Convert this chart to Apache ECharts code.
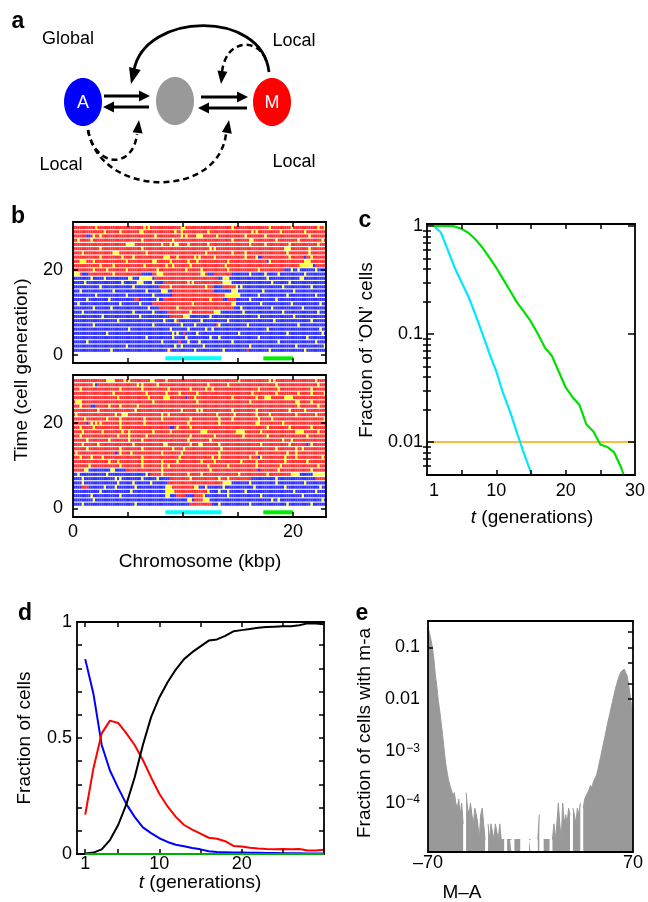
<!DOCTYPE html>
<html><head><meta charset="utf-8">
<script src="https://cdn.jsdelivr.net/npm/echarts@6/dist/echarts.min.js"></script>
<style>html,body{margin:0;padding:0;background:#fff}#c{width:648px;height:902px}</style>
</head><body><div id="c"></div><script>
// ---------------- DATA ----------------
// Panel b: chromatin states per generation (row) and nucleosome column (0.2 kbp each)
const heatCols = 115;
const colKbp = 0.2;
// [base run-length string, point specks] for generations 1..30 (top heatmap)
const topRows = [
 ["B115", "17y 43y 55y 68y 89y 105y 44r 79r"],
 ["B115", "24y 46y 49y 59y 80y 101y 114y"],
 ["B115", "6y 40y 52y 57y 72y 93y 110y 48r"],
 ["B115", "33y 45y 51y 62y 66y 84y 106y"],
 ["B115", "15y 45y 47y 56y 75y 97y 113y 50r"],
 ["B115", "25y 44y 52y 60y 63y 88y 112y"],
 ["B115", "9y 36y 49y 55y 66y 79y 102y 65r"],
 ["B115", "20y 41y 46y 58y 70y 91y 108y 47r"],
 ["B44R6Y3B62", "13y 30y 62y 84y 100y"],
 ["B43R21Y3B48", "4y 27y 36y 53y 77y 95y 111y"],
 ["B39R34B42", "9y 17y 34y 47y 76y 90y 104y"],
 ["B36R36Y2B41", "2y 21y 30y 54y 85y 99y 112y"],
 ["B28R2B11R27B2R4B41", "6y 16y 38y 62y 80y 92y"],
 ["B45R24Y7B39", "10y 24y 36y 84y 97y 110y"],
 ["B45R19B8Y3B40", "3y 18y 33y 40y 41y 42y 86y 100y"],
 ["B39R25B4R6B41", "12y 27y 44y 60y 74y 76y 95y 108y"],
 ["B41R27B47", "5y 22y 29y 30y 31y 36y 52y 54y 68y 69y 70y 71y 90y 98y"],
 ["B37R29B49", "8y 14y 25y 26y 30y 31y 32y 33y 34y 35y 68y 69y 70y 88y 103y 104y"],
 ["R4B3R24B5R25B3R8B43", "0y 1y 2y 18y 38y 39y 40y 58y 59y 80y 87y 93y 105y"],
 ["R96B19", "9y 15y 24y 38y 51y 58y 70y 84y 99y 102y 110y"],
 ["R109B1R5", "12y 18y 32y 42y 45y 53y 69y 103y 104y 105y 106y 107y 108y"],
 ["R88B1R26", "3y 4y 5y 9y 24y 36y 37y 44y 52y 56y 70y 89y 105y 106y 107y"],
 ["R84B2R19B1R9", "12y 22y 27y 41y 42y 43y 47y 55y 57y 64y 78y 83y 98y 108y"],
 ["R115", "4y 18y 19y 20y 33y 60y 72y 78y 97y 107y"],
 ["R115", "12y 31y 62y 64y 96y 97y 98y 107y"],
 ["R115", "24y 25y 26y 27y 40y 44y 46y 47y 52y 61y 80y 87y 98y 111y"],
 ["R115", "2y 8y 31y 45y 72y 80y 81y 92y 102y 113y"],
 ["R6B2R107", "9y 12y 37y 49y 51y 56y 57y 58y 65y 78y 87y 107y"],
 ["R115", "14y 21y 30y 31y 46y 49y 61y 81y 83y 94y 105y"],
 ["R115", "10y 32y 34y 49y 50y 72y 89y 99y 111y 114y"]
];
// bottom heatmap, generations 1..30
const bottomRows = [
 ["B53R10B52", "4y 28y 66y 80y 97y 108y"],
 ["B55R4Y3B53", "9y 52y 53y 90y 93y 113y"],
 ["B42Y2B3R4B4R4Y1B55", "8y 21y 70y 85y 104y"],
 ["B42Y4R15Y1B53", "12y 26y 66y 70y 78y 100y 110y"],
 ["B4R3B35Y3R10Y2B58", "14y 19y 28y 60y 68y 82y 96y 112y"],
 ["B43R25Y4B43", "4y 20y 27y 35y 80y 92y 105y"],
 ["B44R37B11Y1B17R5", "4y 19y 21y 31y 38y 53y 66y 70y"],
 ["B35R64Y4B6Y6", "2y 15y 33y 40y 52y 58y 75y 88y"],
 ["R5Y2B10Y2B5R91", "40y 62y 84b 93y 108y"],
 ["R115", "7y 21y 31y 40y 43y 61y 70y 83y 94y 111y"],
 ["R115", "16y 20y 31y 40y 47y 58y 64y 76y 83y 96y 106y"],
 ["R115", "3y 8y 13y 31y 48y 63y 66y 80y 84b 85y 96y 101y 113y"],
 ["R115", "1y 19b 21y 26y 40y 49y 66y 83y 97y 101y"],
 ["R115", "6y 21y 31y 45y 50y 67y 92y 101y 104y"],
 ["R115", "4y 11y 27y 41y 42y 53y 57y 58y 66y 85y 98y 106b 108y"],
 ["R115", "6y 16y 25y 31y 52y 62y 95y 99y"],
 ["R115", "3y 20y 25y 33y 53y 64y 77y 88y 106y"],
 ["R115", "4y 13y 22y 25y 36y 44y 58y 59y 60y 74y 75y 76y 77y 85y 101y 102y 103y 104y 111y"],
 ["R115", "3y 9y 21y 44b 45b 47y 53y 88y 98y 108y"],
 ["R115", "6b 8y 10y 12y 21y 32y 52y 66y 83y 84y 95y"],
 ["R115", "5y 15y 21y 32y 40y 53y 66y 72y 84y 90y 114y"],
 ["R115", "1y 19y 22y 23y 24y 40y 43y 65y 73y 83y 89y 101y 110y"],
 ["R115", "11y 28y 49y 56y 58y 72y 83y 98y 105y"],
 ["R115", "3y 8b 9b 16y 21y 29y 102y 111y"],
 ["R115", "1y 2y 3y 36y 56y 80y 101y 102y 108y"],
 ["R115", "20y 34y 41y 42y 43y 51b 55y 72y 83y 87y 88y 89y 96y 97y 98y 99y"],
 ["R115", "18y 33y 42y 48y 56y 81y 92y 102y 108y 114y"],
 ["R115", "3y 21y 31y 43y 53y 60y 63y 84y 93y 108y"],
 ["R115", "9y 10b 29y 31y 38y 61y 70y 92y 111y"],
 ["R115", "15y 16y 17y 18y 23y 25y 35y 36y 42y 75y 89y 91y 110y"]
];
const cyanGene = [8.4, 13.5];
const greenGene = [17.3, 20.0];
const geneRowY = -0.9;
const bXTicks = [5, 10, 15, 20];
const bXLabels = [0, 20];
const bYLabels = [0, 20];

// Panel c
const tC = [1,2,3,4,5,6,7,8,9,10,11,12,13,14,15,16,17,18,19,20,21,22,23,24,25,26,27,28,29];
const cyanC = [1.0,0.87,0.6,0.41,0.3,0.22,0.15,0.1,0.066,0.045,0.028,0.019,0.012,0.0078,0.0052,0.0034];
const greenC = [1.0,1.0,1.0,0.99,0.94,0.86,0.75,0.63,0.51,0.41,0.32,0.25,0.195,0.16,0.13,0.1,0.075,0.063,0.045,0.032,0.026,0.022,0.0145,0.0125,0.0095,0.009,0.008,0.0058,0.0038];
const thresholdC = 0.01;
const cXLabels = [1, 10, 20, 30];
const cXTicks = [5, 10, 15, 20, 25];
const cYMajor = [0.01, 0.1, 1];
const cYMinor = [0.006,0.007,0.008,0.009,0.02,0.03,0.04,0.05,0.06,0.07,0.08,0.09,0.2,0.3,0.4,0.5,0.6,0.7,0.8,0.9];

// Panel d
const tD = [1,2,3,4,5,6,7,8,9,10,11,12,13,14,15,16,17,18,19,20,21,22,23,24,25,26,27,28,29,30];
const blackD = [0.002,0.006,0.02,0.06,0.125,0.215,0.33,0.47,0.59,0.675,0.74,0.795,0.84,0.87,0.895,0.92,0.925,0.94,0.96,0.965,0.97,0.975,0.978,0.98,0.982,0.982,0.986,0.994,0.993,0.99];
const blueD = [0.84,0.69,0.47,0.36,0.285,0.215,0.16,0.115,0.09,0.068,0.052,0.04,0.033,0.026,0.02,0.012,0.009,0.008,0.007,0.006,0.005,0.005,0.004,0.004,0.003,0.003,0.003,0.002,0.002,0.002];
const redD = [0.17,0.37,0.52,0.575,0.565,0.52,0.47,0.405,0.33,0.26,0.205,0.16,0.125,0.105,0.088,0.07,0.066,0.055,0.035,0.032,0.027,0.024,0.022,0.021,0.022,0.02,0.022,0.015,0.015,0.018];
const greenD = [0,0,0,0,0,0,0,0,0,0,0,0,0,0,0,0,0,0,0,0,0,0,0,0,0,0,0,0,0,0];
const dXLabels = [1, 10, 20];
const dXTicks = [1, 5, 10, 15, 20, 25];
const dYLabels = [0, 0.5, 1];
const dYTicks = [0.1,0.2,0.3,0.4,0.5,0.6,0.7,0.8,0.9];

// Panel e: fraction of cells with M-A = -70 .. 70
const mE = [];
for (let m = -70; m <= 70; m++) mE.push(m);
const fracE = [
 0.24,0.19,0.14,0.1,0.06,0.03,0.018,0.0095,0.006,0.0035,
 0.002,0.0011,0.0006,0.0004,0.00028,0.00022,0.00018,0.00014,0.00016,0.0001,
 0.00008,0.00012,0.00006,0.0001,0.00004,0,0.00016,0.00008,0.00006,0.0001,
 0.00006,0.00004,0.00008,0.00006,0.00004,0.00002,0.00006,0.00008,0.00004,0.00002,
 0,0.00004,0.00002,0.00004,0.00004,0.00002,0.00004,0.00004,0.00002,0.00004,
 0.00002,0.00002,0.00002,0,0.00002,0.00002,0.00002,0.00002,0,0.00002,
 0.00002,0.00002,0.00002,0.00002,0,0,0,0,0,0.00002,
 0.00002,0,0.00002,0,0,0.00002,0.00006,0,0,0.00002,
 0.00002,0.00002,0.00002,0.00002,0,0.00002,0.00004,0.00002,0.00004,0.0001,
 0.00004,0.00002,0.0001,0.00004,0.00006,0.00004,0.00008,0.00006,0,0.00008,
 0.00006,0.00004,0.00008,0.00006,0.0001,0,0.00008,0.00012,0.00014,0.00016,
 0.00018,0.00022,0.0002,0.00026,0.0003,0.00034,0.00044,0.0006,0.0008,0.0011,
 0.0015,0.002,0.0028,0.0038,0.005,0.0068,0.009,0.012,0.016,0.02,
 0.025,0.03,0.034,0.037,0.038,0.035,0.028,0.019,0.012,0.0075,
 0.0045
];
const eXLabels = [-70, 70];
const eYLabels = [0.0001, 0.001, 0.01, 0.1];
const eYTicksLeft = [0.1];
const eYTicksRight = [0.2, 0.1, 0.05, 0.02, 0.01];

// ---------------- BUILD ----------------
const FONT = '"Liberation Sans", Arial, Helvetica, sans-serif';
const COLORS = {R: '#ff0000', B: '#0000ff', Y: '#ffff00'};

function expandRow(rle, specks) {
  const out = [];
  const re = /([RBY])(\d+)/g; let m;
  while ((m = re.exec(rle)) !== null) for (let i = 0; i < +m[2]; i++) out.push(m[1]);
  while (out.length < heatCols) out.push(out[out.length - 1] || 'B');
  out.length = heatCols;
  specks.split(/\s+/).filter(Boolean).forEach(tok => {
    const c = parseInt(tok, 10); const k = tok.slice(-1).toUpperCase();
    if (c >= 0 && c < heatCols) out[c] = k;
  });
  return out;
}
function heatSeries(rows, xi, yi) {
  const buckets = {R: [], B: [], Y: []};
  rows.forEach((r, ri) => {
    const cells = expandRow(r[0], r[1]);
    cells.forEach((k, ci) => buckets[k].push([ci * colKbp + colKbp / 2, ri + 1]));
  });
  return ['B', 'R', 'Y'].map(k => ({
    type: 'scatter', xAxisIndex: xi, yAxisIndex: yi, data: buckets[k],
    symbol: 'rect', symbolSize: [2.2, 3.1], itemStyle: {color: COLORS[k]},
    silent: true, animation: false, large: false
  }));
}
function geneSeries(region, color, xi, yi) {
  return {type: 'line', xAxisIndex: xi, yAxisIndex: yi, data: [[region[0], geneRowY], [region[1], geneRowY]],
    symbol: 'none', lineStyle: {color: color, width: 4, cap: 'butt'}, silent: true, animation: false, z: 3};
}
function lineSeries(xs, ys, color, xi, yi, w, z) {
  return {type: 'line', xAxisIndex: xi, yAxisIndex: yi, data: ys.map((v, i) => [xs[i], v]),
    symbol: 'none', lineStyle: {color: color, width: w || 2}, silent: true, animation: false, z: z || 2};
}

function ax(o) {
  return Object.assign({
    type: 'value',
    axisLine: {show: true, onZero: false, lineStyle: {color: '#000', width: 1.8}},
    axisTick: {show: false}, axisLabel: {show: false}, splitLine: {show: false}, z: 10
  }, o);
}
function ticks(vals, len) {
  return {show: true, inside: true, length: len || 5, customValues: vals, lineStyle: {color: '#000', width: 1.5}};
}
function labels(vals, fmt, margin, rich) {
  const o = {show: true, customValues: vals, formatter: fmt, color: '#000', fontSize: 18, fontFamily: FONT, margin: margin};
  if (rich) o.rich = rich;
  return o;
}
const fmtLog = v => { const r = Math.round(Math.log10(v)); return r >= 0 ? '1' : Math.pow(10, r).toFixed(-r); };
const fmtE = v => { const r = Math.round(Math.log10(v)); return r >= -2 ? Math.pow(10, r).toFixed(-r) : '{b|10}{s|\u2212' + (-r) + '}'; };
const richE = {b: {fontSize: 18, fontFamily: FONT, color: '#000', verticalAlign: 'bottom'},
               s: {fontSize: 12, fontFamily: FONT, color: '#000', verticalAlign: 'top', padding: [0, 0, 6, 1]}};

const cMin = 0.00495, cMax = 1.043, eMin = 1.15e-5, eMax = 0.32;

const xAxis = [
  ax({gridIndex: 0, min: 0, max: 23, position: 'bottom', axisTick: ticks(bXTicks)}),
  ax({gridIndex: 0, min: 0, max: 23, position: 'top', axisTick: ticks(bXTicks)}),
  ax({gridIndex: 1, min: 0, max: 23, position: 'bottom', axisTick: ticks(bXTicks), axisLabel: labels(bXLabels, v => String(v), 6)}),
  ax({gridIndex: 1, min: 0, max: 23, position: 'top', axisTick: ticks(bXTicks)}),
  ax({gridIndex: 2, min: 0, max: 30, position: 'bottom', axisTick: ticks(cXTicks), axisLabel: labels(cXLabels, v => String(v), 7)}),
  ax({gridIndex: 2, min: 0, max: 30, position: 'top', axisTick: ticks(cXTicks)}),
  ax({gridIndex: 3, min: 0, max: 30, position: 'bottom', axisTick: ticks(dXTicks), axisLabel: labels(dXLabels, v => String(v), 1)}),
  ax({gridIndex: 3, min: 0, max: 30, position: 'top', axisTick: ticks(dXTicks)}),
  ax({gridIndex: 4, min: -70, max: 70, position: 'bottom', axisLabel: labels(eXLabels, v => v < 0 ? '\u2013' + (-v) : String(v), 2)}),
  ax({gridIndex: 4, min: -70, max: 70, position: 'top'})
];
const yAxis = [
  ax({gridIndex: 0, min: -2, max: 31.3, position: 'left', axisTick: ticks(bYLabels), axisLabel: labels(bYLabels, v => String(v), 10)}),
  ax({gridIndex: 0, min: -2, max: 31.3, position: 'right', axisTick: ticks(bYLabels)}),
  ax({gridIndex: 1, min: -2, max: 31.3, position: 'left', axisTick: ticks(bYLabels), axisLabel: labels(bYLabels, v => String(v), 10)}),
  ax({gridIndex: 1, min: -2, max: 31.3, position: 'right', axisTick: ticks(bYLabels)}),
  ax({gridIndex: 2, type: 'log', min: cMin, max: cMax, position: 'left', axisTick: ticks(cYMajor, 7), axisLabel: labels(cYMajor, fmtLog, 4)}),
  ax({gridIndex: 2, type: 'log', min: cMin, max: cMax, position: 'right', axisTick: ticks(cYMajor, 7)}),
  ax({gridIndex: 2, type: 'log', min: cMin, max: cMax, position: 'left', axisLine: {show: false}, axisTick: ticks(cYMinor, 4)}),
  ax({gridIndex: 2, type: 'log', min: cMin, max: cMax, position: 'right', axisLine: {show: false}, axisTick: ticks(cYMinor, 4)}),
  ax({gridIndex: 3, min: 0, max: 1, position: 'left', axisTick: ticks(dYTicks), axisLabel: labels(dYLabels, v => String(v), 5)}),
  ax({gridIndex: 3, min: 0, max: 1, position: 'right', axisTick: ticks(dYTicks)}),
  ax({gridIndex: 4, type: 'log', min: eMin, max: eMax, position: 'left', axisTick: ticks(eYTicksLeft), axisLabel: labels(eYLabels, fmtE, 8, richE)}),
  ax({gridIndex: 4, type: 'log', min: eMin, max: eMax, position: 'right', axisTick: ticks(eYTicksRight)})
];

const series = [].concat(
  heatSeries(topRows, 0, 0),
  heatSeries(bottomRows, 2, 2),
  [geneSeries(cyanGene, '#00ffff', 0, 0), geneSeries(greenGene, '#00ee00', 0, 0),
   geneSeries(cyanGene, '#00ffff', 2, 2), geneSeries(greenGene, '#00ee00', 2, 2)],
  [lineSeries([0, 30], [thresholdC, thresholdC], '#ffa500', 4, 4, 1.5),
   lineSeries(tC, cyanC, '#00e8ff', 4, 4, 2.2),
   lineSeries(tC, greenC, '#00e000', 4, 4, 2.2)],
  [lineSeries(tD, blueD, '#0000ff', 6, 8, 2),
   lineSeries(tD, redD, '#ff0000', 6, 8, 2),
   lineSeries(tD, blackD, '#000000', 6, 8, 2),
   lineSeries(tD, greenD, '#00b000', 6, 8, 2.2, 11)],
  [{type: 'line', xAxisIndex: 8, yAxisIndex: 10,
    data: mE.map((m, i) => [m, fracE[i] > 0 ? fracE[i] : null]),
    symbol: 'none', connectNulls: false, lineStyle: {color: '#999999', width: 1},
    areaStyle: {color: '#999999', opacity: 1, origin: 'start'}, silent: true, animation: false}]
);

// ---------------- PANEL a diagram + texts ----------------
function head(tx, ty, fx, fy, len, hw) {
  const dx = tx - fx, dy = ty - fy, d = Math.hypot(dx, dy), ux = dx / d, uy = dy / d;
  const bx = tx - ux * len, by = ty - uy * len;
  return {type: 'polygon', shape: {points: [[tx, ty], [bx - uy * hw, by + ux * hw], [bx + uy * hw, by - ux * hw]]}, style: {fill: '#000'}};
}
function seg(x1, y1, x2, y2) {
  return {type: 'line', shape: {x1, y1, x2, y2}, style: {stroke: '#000', lineWidth: 3}};
}
function bez(p, dash, w) {
  return {type: 'bezierCurve', shape: {x1: p[0], y1: p[1], cpx1: p[2], cpy1: p[3], cpx2: p[4], cpy2: p[5], x2: p[6], y2: p[7]},
    style: {stroke: '#000', fill: null, lineWidth: w, lineDash: dash}};
}
function txt(s, x, y, size, opts) {
  return Object.assign({type: 'text', x: x, y: y, style: Object.assign({text: s, fill: '#000', fontSize: size, fontFamily: FONT,
    textAlign: 'center', textVerticalAlign: 'middle'}, (opts && opts.style) || {})}, (opts && opts.el) || {});
}
const ROT = {el: {rotation: Math.PI / 2}};
const italicT = {i: {fontStyle: 'italic', fontSize: 19, fontFamily: FONT, fill: '#000'}, n: {fontSize: 19, fontFamily: FONT, fill: '#000'}};

const graphic = [
  {type: 'ellipse', shape: {cx: 83, cy: 102, rx: 19, ry: 24}, style: {fill: '#0000ff'}},
  {type: 'ellipse', shape: {cx: 175, cy: 101, rx: 19, ry: 24}, style: {fill: '#999999'}},
  {type: 'ellipse', shape: {cx: 272, cy: 102, rx: 19, ry: 24}, style: {fill: '#ff0000'}},
  txt('A', 83, 103, 18, {style: {fill: '#fff'}}),
  txt('M', 272, 103, 18, {style: {fill: '#fff'}}),
  seg(104, 96, 140, 96), head(150, 96, 104, 96, 11, 5.5),
  seg(149, 107, 113, 107), head(103, 107, 149, 107, 11, 5.5),
  seg(201, 97, 238, 97), head(248, 97, 201, 97, 11, 5.5),
  seg(247, 108, 208, 108), head(198, 108, 247, 108, 11, 5.5),
  bez([269, 72, 262, 9, 145, 12, 134, 70], null, 2.8), head(131, 84, 136, 64, 16, 6),
  bez([266, 60, 258, 38, 226, 38, 222, 72], [6, 4], 2.5), head(221, 84, 223, 66, 13, 5),
  bez([88, 130, 95, 168, 133, 170, 137, 134], [6, 4], 2.5), head(139, 120, 137, 138, 13, 5),
  bez([88, 130, 100, 198, 218, 200, 226, 134], [6, 4], 2.5), head(229, 120, 226, 138, 13, 5),
  txt('Global', 68, 39, 18), txt('Local', 294, 41, 18), txt('Local', 61, 165, 18), txt('Local', 294, 162, 18),
  txt('a', 18, 22, 23, {style: {fontWeight: 'bold'}}),
  txt('b', 18, 217, 23, {style: {fontWeight: 'bold'}}),
  txt('c', 365, 221, 23, {style: {fontWeight: 'bold'}}),
  txt('d', 25, 614, 23, {style: {fontWeight: 'bold'}}),
  txt('e', 362, 614, 23, {style: {fontWeight: 'bold'}}),
  txt('Time (cell generation)', 22, 370, 19, ROT),
  txt('Chromosome (kbp)', 200, 562, 19),
  txt('Fraction of \u2018ON\u2019 cells', 367, 350, 19, ROT),
  txt('{i|t}{n| (generations)}', 532, 518, 19, {style: {rich: italicT}}),
  txt('Fraction of cells', 25, 738, 19, ROT),
  txt('{i|t}{n| (generations)}', 200, 883, 19, {style: {rich: italicT}}),
  txt('Fraction of cells with m-a', 365, 733, 19, ROT),
  txt('M\u2013A', 462, 893, 19)
];

const chart = echarts.init(document.getElementById('c'), null, {renderer: 'canvas', width: 648, height: 902});
chart.setOption({
  backgroundColor: '#ffffff',
  animation: false,
  grid: [
    {left: 73, top: 222, width: 253, height: 141},
    {left: 73, top: 375, width: 253, height: 142},
    {left: 427, top: 224, width: 210, height: 251},
    {left: 77, top: 622, width: 247, height: 232},
    {left: 428, top: 621, width: 205, height: 231}
  ],
  xAxis: xAxis, yAxis: yAxis, series: series, graphic: graphic
});
</script></body></html>
